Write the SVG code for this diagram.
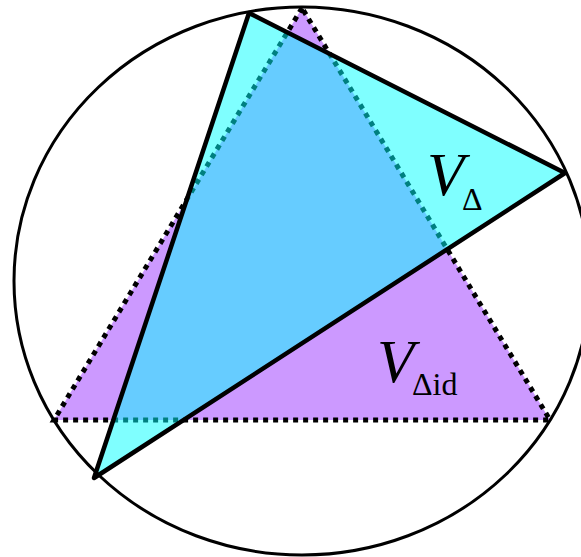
<svg xmlns="http://www.w3.org/2000/svg" width="581" height="557" viewBox="0 0 581 557">
<style>
.lbl{font-family:"Liberation Serif","Times New Roman",serif;fill:#000}
.v{font-style:italic;font-size:61px}
.sub{font-size:32px}
</style>
<rect width="581" height="557" fill="#fff"/>
<g id="ideal-triangle">
<polygon points="302,8 54,420 550,420" fill="#CC99FF"/>
<polygon points="302,8 54,420 550,420" fill="none" stroke="#000" stroke-width="5" stroke-dasharray="5 5"/>
</g>
<g id="triangle">
<polygon points="249,13 565,173 94,478" fill="#00FFFF" fill-opacity="0.5" stroke="#000" stroke-width="4.5" stroke-linejoin="round"/>
</g>
<g id="circle">
<ellipse cx="302" cy="281" rx="288" ry="274" fill="none" stroke="#000" stroke-width="3"/>
</g>
<g id="labels">
<text class="lbl v" x="427" y="195">V</text>
<text class="lbl sub" x="462" y="210">Δ</text>
<text class="lbl v" x="377" y="382">V</text>
<text class="lbl sub" x="412" y="395">Δid</text>
</g>
</svg>
